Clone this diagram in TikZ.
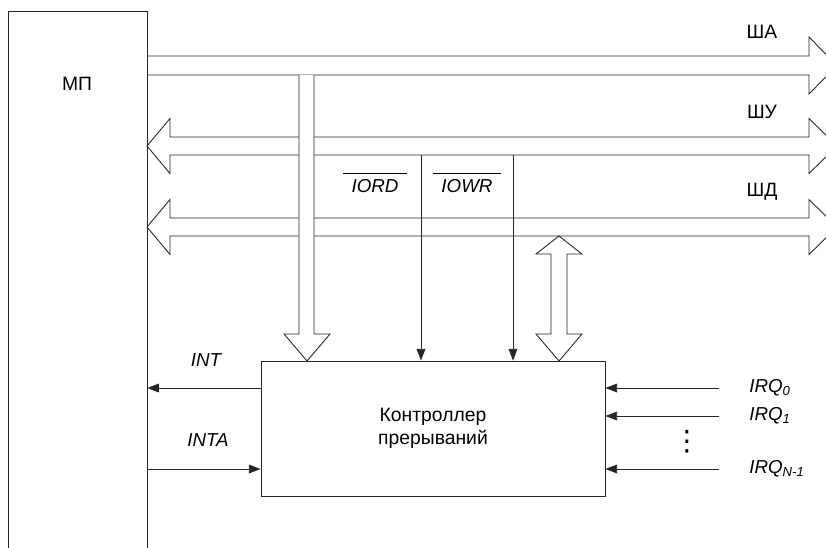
\documentclass[tikz,border=0pt]{standalone}
\usepackage{fontspec}
\setmainfont{Liberation Sans}
\newfontfamily\symfont{DejaVu Sans}
\usetikzlibrary{arrows.meta, positioning, calc}

\tikzset{
  wire/.style={line width=0.75pt, draw=black!85},
  sig/.style={wire, -{Triangle[length=10pt,width=7.5pt]}},
  bus/.style={wire, fill=white, line join=miter},
  lbl/.style={font=\fontsize{16.5}{18}\selectfont, inner sep=1pt},
  ilbl/.style={font=\fontsize{16}{18}\selectfont\itshape, inner sep=1pt},
}

\begin{document}
\begin{tikzpicture}[x=0.03cm, y=-0.03cm]
  \useasboundingbox (0,0) rectangle (826,547);
  \clip (0,0) rectangle (826,547);

  % control and data buses (both ways)
  \foreach \yc in {146, 227}{
    \draw[bus] (147,\yc) -- ++(23,-27.5) -- ++(0,18.5) -- (809,\yc-9)
      -- ++(0,-18.5) -- (837,\yc) -- (809,\yc+27.5) -- ++(0,-18.5)
      -- (170,\yc+9) -- ++(0,18.5) -- cycle;
  }
  % address bus
  \draw[bus] (147,56) -- (809,56) -- (809,37) -- (837,65.5) -- (809,94)
    -- (809,75) -- (147,75);
  % address branch down to the controller
  \draw[bus] (299,75) -- (299,334) -- (284,334) -- (307,361) -- (330,334)
    -- (314,334) -- (314,75);
  % data link
  \draw[bus] (559,236) -- (582,254) -- (567,254) -- (567,334) -- (582,334)
    -- (559,361) -- (536,334) -- (551,334) -- (551,254) -- (536,254) -- cycle;

  % bus names
  \node[lbl] (busa) at (762,32) {ША};
  \node[lbl] (busu) at (762,112) {ШУ};
  \node[lbl] (busd) at (762,192) {ШД};

  % processor
  \node (mp) [minimum width=4.14cm, minimum height=16.44cm, inner sep=0pt]
    at (78,286) {};
  \draw[wire] (mp.south west) -- (mp.north west) -- (mp.north east)
    -- (mp.south east);
  \node[lbl] (mptext) at (77,84) {МП};

  % interrupt controller
  \node (ctrl) [draw, wire, lbl, align=center, minimum width=10.32cm,
    minimum height=4.05cm] at (433,428.5) {Контроллер\\[2pt]прерываний};

  % read / write strobes
  \coordinate (rd) at (421,155);
  \coordinate (wr) at (513,155);
  \draw[sig] (rd) -- (rd |- ctrl.north);
  \draw[sig] (wr) -- (wr |- ctrl.north);
  \node[ilbl, anchor=base] (rdl) at (375,192)
    {$\overline{\mbox{\hspace{7pt}\rule{0pt}{14.5pt}IORD\hspace{7pt}}}$};
  \node[ilbl, anchor=base] (wrl) at (467,192)
    {$\overline{\mbox{\hspace{7pt}\rule{0pt}{14.5pt}IOWR\hspace{7pt}}}$};

  % INT / INTA
  \coordinate (yint) at (0,388);
  \coordinate (yinta) at (0,469);
  \draw[sig] (ctrl.west |- yint) -- (mp.east |- yint);
  \draw[sig] (mp.east |- yinta) -- (ctrl.west |- yinta);
  \node[ilbl] (intl) at (206,360) {INT};
  \node[ilbl] (intal) at (208,440) {INTA};

  % interrupt requests
  \foreach \yy/\nm/\sub in {388/q0/0, 416/q1/1, 469/qn/N-1}{
    \node[ilbl, anchor=west] (\nm) at (748,\yy) {IRQ\textsubscript{\sub}};
    \draw[sig] ([xshift=-25pt]\nm.west) -- (ctrl.east |- \nm);
  }
  \node[inner sep=0pt, font=\symfont\fontsize{24}{24}\selectfont]
    (dots) at (687,442) {⋮};
\end{tikzpicture}
\end{document}
